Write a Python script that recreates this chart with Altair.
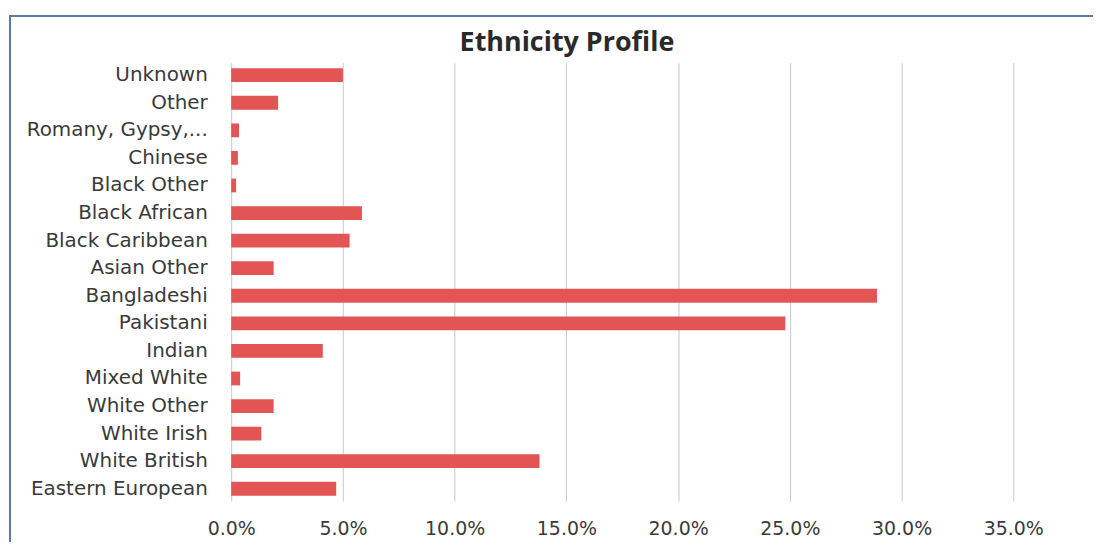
import altair as alt
import pandas as pd

categories = [
    "Unknown", "Other", "Romany, Gypsy,...", "Chinese", "Black  Other",
    "Black African", "Black Caribbean", "Asian Other ", "Bangladeshi",
    "Pakistani", "Indian", "Mixed White", "White Other", "White Irish",
    "White British", "Eastern European",
]
values = [
    0.050, 0.021, 0.0035, 0.003, 0.0022,
    0.0585, 0.053, 0.019, 0.289,
    0.248, 0.041, 0.004, 0.019, 0.0135,
    0.138, 0.047,
]
tick_values = [0.0, 0.05, 0.10, 0.15, 0.20, 0.25, 0.30, 0.35]
title_text = "Ethnicity Profile"

df = pd.DataFrame({"category": categories, "share": values})

FONT = "DejaVu Sans"

bars = alt.Chart(df).mark_bar(color="#E35555").encode(
    x=alt.X(
        "share:Q",
        scale=alt.Scale(domain=[0, 0.35], nice=False),
        axis=alt.Axis(
            title=None, format=".1%", values=tick_values, grid=True,
            gridColor="#c8c8c8", ticks=False, domain=False,
            labelFontSize=19, labelPadding=18, labelColor="#3a3a3a",
            labelFont=FONT, labelFlush=False, labelOverlap=False,
        ),
    ),
    y=alt.Y(
        "category:N",
        sort=categories,
        scale=alt.Scale(paddingInner=0.5, paddingOuter=0.2),
        axis=alt.Axis(
            title=None, ticks=False, domain=False, labelFontSize=20,
            labelPadding=24, labelColor="#3a3a3a", labelFont=FONT,
            labelLimit=400,
        ),
    ),
)

border = alt.Chart(pd.DataFrame({"a": [0]})).mark_rect(
    fill=None, stroke="#5a7aa8", strokeWidth=2
).encode(
    x=alt.value(-222), x2=alt.value(1000),
    y=alt.value(-47), y2=alt.value(600),
)

title = alt.Chart(pd.DataFrame({"t": [title_text]})).mark_text(
    font="Open Sans", fontSize=27, fontWeight="bold", color="#2a2a2a",
    align="center", baseline="middle",
).encode(
    text="t:N", x=alt.value(337), y=alt.value(-20),
)

chart = alt.layer(bars, border, title).properties(
    width=785,
    height=440,
    padding={"left": 224, "top": 54, "right": 80, "bottom": 40},
    autosize=alt.AutoSizeParams(type="none"),
    background="white",
).configure_view(stroke=None)

chart.save("out.html", embed_options={"renderer": "svg", "actions": False})
